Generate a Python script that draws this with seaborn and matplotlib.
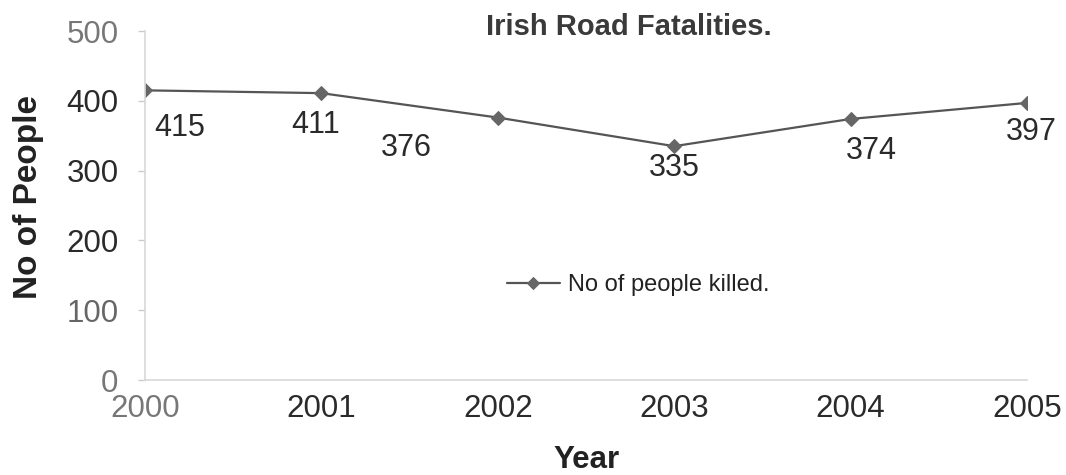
import matplotlib
matplotlib.use("Agg")
import matplotlib.pyplot as plt
import seaborn as sns
import pandas as pd

# Irish road fatalities per year
years = [2000, 2001, 2002, 2003, 2004, 2005]
killed = [415, 411, 376, 335, 374, 397]
y_ticks = [0, 100, 200, 300, 400, 500]

# label placement relative to each point (points: dx, dy)
label_offsets = [(25, -27), (-4, -23), (-66, -22), (0, -16), (15, -23), (3, -21)]

sns.set_theme(style="white")
plt.rcParams["font.family"] = ["Liberation Sans", "DejaVu Sans"]

df = pd.DataFrame({"Year": years, "No of people killed.": killed})

fig = plt.figure(figsize=(10.66, 4.75), dpi=100)
ax = fig.add_axes([0.136, 0.2, 0.8274, 0.7347])

line_color = "#555555"
sns.lineplot(data=df, x="Year", y="No of people killed.", ax=ax,
             color=line_color, linewidth=1.6, marker="D", markersize=7.5,
             markeredgecolor="#666666", markerfacecolor="#666666",
             label="No of people killed.")

for x, y, (dx, dy) in zip(years, killed, label_offsets):
    ax.annotate(str(y), (x, y), xytext=(dx, dy), textcoords="offset points",
                ha="center", va="center", fontsize=22, color="#2a2a2a")

ax.set_xlim(years[0], years[-1])
ax.set_ylim(y_ticks[0], y_ticks[-1])
ax.set_xticks(years)
ax.set_yticks(y_ticks)
ax.set_xticklabels([str(v) for v in years], fontsize=22.5)
ax.set_yticklabels([str(v) for v in y_ticks], fontsize=22.5)
ax.tick_params(axis="y", length=5, width=1, color="#cccccc", pad=14, left=True)
ax.tick_params(axis="x", length=0, pad=10)

for lbl, c in zip(ax.get_xticklabels(), ["#777777"] + ["#2a2a2a"] * 5):
    lbl.set_color(c)
for lbl, c in zip(ax.get_yticklabels(), ["#777777", "#666666", "#2a2a2a", "#2a2a2a", "#2a2a2a", "#777777"]):
    lbl.set_color(c)

for side in ["top", "right"]:
    ax.spines[side].set_visible(False)
for side in ["left", "bottom"]:
    ax.spines[side].set_color("#d8d8d8")
    ax.spines[side].set_linewidth(1.2)

ax.set_title("Irish Road Fatalities.", fontsize=21, fontweight="bold",
             color="#3a3a3a", pad=-3, x=0.549)
ax.set_xlabel("Year", fontsize=22.5, fontweight="bold", color="#222222")
ax.xaxis.set_label_coords(0.5, -0.186)
ax.set_ylabel("No of People", fontsize=24, fontweight="bold", color="#222222")
ax.yaxis.set_label_coords(-0.115, 0.525)

leg = ax.legend(loc="center left", bbox_to_anchor=(0.41, 0.272), frameon=False,
                fontsize=17, handlelength=2.25, handletextpad=0.35,
                borderpad=0, borderaxespad=0, markerscale=0.85)
for t in leg.get_texts():
    t.set_color("#222222")

fig.savefig("out.png", dpi=100, facecolor="white")
